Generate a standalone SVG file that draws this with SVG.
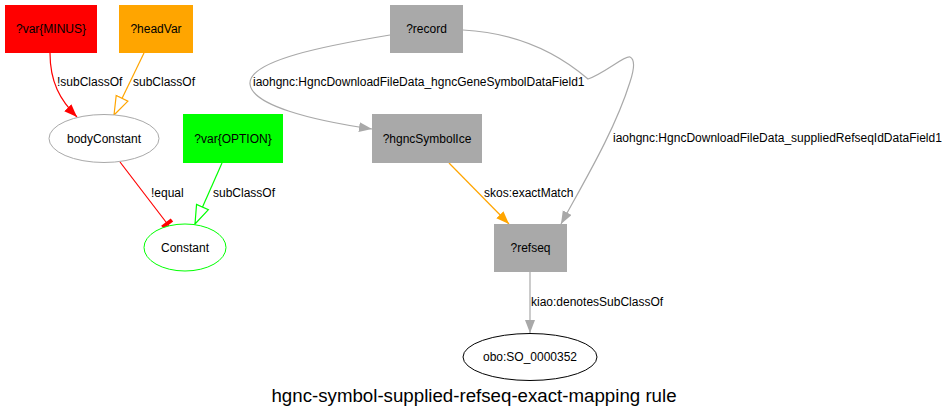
<svg xmlns="http://www.w3.org/2000/svg" width="948" height="419" viewBox="0 0 948 419">
<style>
text{font-family:"Liberation Sans",Arial,sans-serif;font-size:12px;fill:#000}
.n{text-anchor:middle}
.title{font-size:18.7px;text-anchor:middle}
.e{fill:none;stroke-width:1.2}
.gray{stroke:#a9a9a9}
.red{stroke:#ff0000}
.orange{stroke:#ffa500}
.green{stroke:#00ff00}
</style>
<defs>
<marker id="aRed" markerUnits="userSpaceOnUse" markerWidth="14" markerHeight="11" refX="13" refY="5" orient="auto"><path d="M0,0 L13,5 L0,10 z" fill="#ff0000"/></marker>
<marker id="aGray" markerUnits="userSpaceOnUse" markerWidth="14" markerHeight="11" refX="13" refY="5" orient="auto"><path d="M0,0 L13,5 L0,10 z" fill="#a9a9a9"/></marker>
<marker id="aOrange" markerUnits="userSpaceOnUse" markerWidth="14" markerHeight="11" refX="13" refY="5" orient="auto"><path d="M0,0 L13,5 L0,10 z" fill="#ffa500"/></marker>
<marker id="oOrange" markerUnits="userSpaceOnUse" markerWidth="21" markerHeight="16" refX="19.5" refY="7.5" orient="auto"><path d="M1,1 L19.5,7.5 L1,14 z" fill="#fff" stroke="#ffa500" stroke-width="1.2"/></marker>
<marker id="oGreen" markerUnits="userSpaceOnUse" markerWidth="21" markerHeight="16" refX="19.5" refY="7.5" orient="auto"><path d="M1,1 L19.5,7.5 L1,14 z" fill="#fff" stroke="#00ff00" stroke-width="1.2"/></marker>
<marker id="tRed" markerUnits="userSpaceOnUse" markerWidth="8" markerHeight="13" refX="7" refY="6.5" orient="auto"><rect x="2" y="0.5" width="4" height="12" fill="#ff0000"/></marker>
</defs>
<rect width="948" height="419" fill="#fff"/>

<g id="edges">
<path class="e red" d="M50,53 C50,82 60,100 77,117" marker-end="url(#aRed)"/>
<text x="57" y="86">!subClassOf</text>
<path class="e orange" d="M144,53 L114,115" marker-end="url(#oOrange)"/>
<text x="133" y="86">subClassOf</text>
<path class="e red" d="M120,162 L169,226" marker-end="url(#tRed)"/>
<text x="151" y="197">!equal</text>
<path class="e green" d="M222,163 L195,224" marker-end="url(#oGreen)"/>
<text x="213" y="197">subClassOf</text>
<path class="e gray" d="M390,35 C330,45 248,60 250,84 C252,105 310,120 372,129" marker-end="url(#aGray)"/>
<text x="253" y="86">iaohgnc:HgncDownloadFileData_hgncGeneSymbolDataField1</text>
<path class="e gray" d="M463,30 C520,33 560,55 588,79 C605,73 625,55 630,57 C636,60 634,70 630,82 C615,130 585,180 561,224" marker-end="url(#aGray)"/>
<text x="613" y="142">iaohgnc:HgncDownloadFileData_suppliedRefseqIdDataField1</text>
<path class="e orange" d="M449,163 L509,224" marker-end="url(#aOrange)"/>
<text x="484" y="197">skos:exactMatch</text>
<path class="e gray" d="M530,272 L530,333" marker-end="url(#aGray)"/>
<text x="531" y="306">kiao:denotesSubClassOf</text>
</g>

<g id="varMinus">
<rect x="5" y="5" width="92" height="48" fill="#ff0000"/>
<text class="n" x="51" y="33">?var{MINUS}</text>
</g>
<g id="headVar">
<rect x="119" y="5" width="74" height="48" fill="#ffa500"/>
<text class="n" x="156" y="33">?headVar</text>
</g>
<g id="bodyConstant">
<ellipse cx="104" cy="138.5" rx="55" ry="24" fill="#fff" stroke="#a9a9a9"/>
<text class="n" x="104" y="142.5">bodyConstant</text>
</g>
<g id="varOption">
<rect x="183" y="114" width="100" height="49" fill="#00ff00"/>
<text class="n" x="233" y="142.5">?var{OPTION}</text>
</g>
<g id="constant">
<ellipse cx="185" cy="247.5" rx="41" ry="23.5" fill="#fff" stroke="#00ff00"/>
<text class="n" x="185" y="251.5">Constant</text>
</g>
<g id="record">
<rect x="390" y="5" width="73" height="48" fill="#a9a9a9"/>
<text class="n" x="426.5" y="33">?record</text>
</g>
<g id="hgncSymbolIce">
<rect x="372" y="114" width="110" height="49" fill="#a9a9a9"/>
<text class="n" x="427" y="142.5">?hgncSymbolIce</text>
</g>
<g id="refseq">
<rect x="494" y="224" width="73" height="48" fill="#a9a9a9"/>
<text class="n" x="530.5" y="251.5">?refseq</text>
</g>
<g id="so0000352">
<ellipse cx="530" cy="357" rx="67" ry="23.5" fill="#fff" stroke="#000"/>
<text class="n" x="530" y="361">obo:SO_0000352</text>
</g>

<text class="title" x="474" y="402">hgnc-symbol-supplied-refseq-exact-mapping rule</text>
</svg>
